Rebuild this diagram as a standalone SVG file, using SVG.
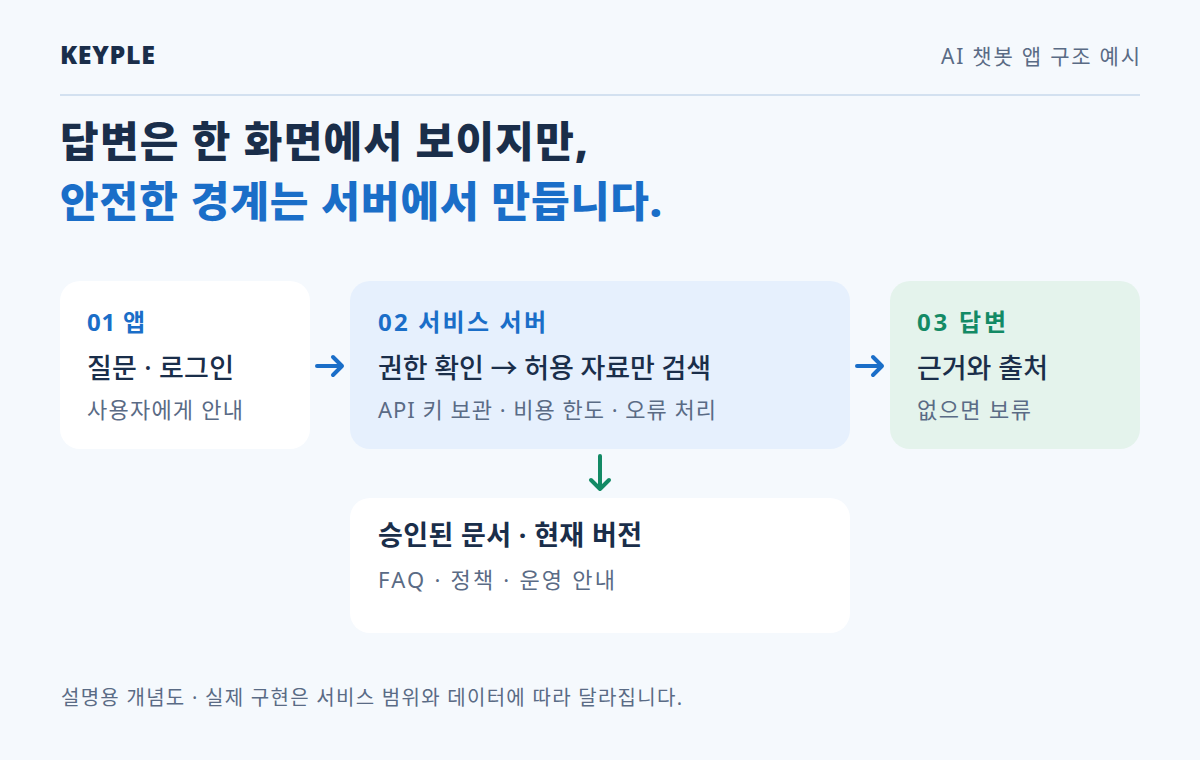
<svg xmlns="http://www.w3.org/2000/svg" width="1200" height="760" viewBox="0 0 1200 760">
<defs>
<style>
text{font-family:"Noto Sans","Noto Sans CJK KR",sans-serif}
.dark{fill:#1a2e4a}
.muted{fill:#5a6b85}
.blue{fill:#1a6ec8}
.green{fill:#138a65}
.step{font-size:24px;font-weight:700}
.main{font-size:27px;font-weight:500}
.sub{font-size:22px;font-weight:400}
.title{font-size:42px;font-weight:900}
.arr{fill:none;stroke-width:4;stroke-linecap:round;stroke-linejoin:round}
</style>
</defs>
<rect width="1200" height="760" fill="#f5f9fd"/>
<text x="60" y="64" class="dark" style="font-size:25px;font-weight:900" textLength="95" lengthAdjust="spacing">KEYPLE</text>
<text x="1140" y="64" class="muted" text-anchor="end" style="font-size:21px" textLength="199" lengthAdjust="spacing">AI 챗봇 앱 구조 예시</text>
<line x1="60" y1="95" x2="1140" y2="95" stroke="#d3e1f0" stroke-width="2"/>
<text x="60" y="157" class="title dark" textLength="528" lengthAdjust="spacing">답변은 한 화면에서 보이지만,</text>
<text x="60" y="217" class="title blue" textLength="602" lengthAdjust="spacing">안전한 경계는 서버에서 만듭니다.</text>

<g id="node-app">
<rect x="60" y="281" width="250" height="168" rx="20" fill="#ffffff"/>
<text x="87" y="331" class="step blue" textLength="58" lengthAdjust="spacing">01 앱</text>
<text x="87" y="378" class="main dark" textLength="147" lengthAdjust="spacing">질문 · 로그인</text>
<text x="87" y="418" class="sub muted" textLength="156" lengthAdjust="spacing">사용자에게 안내</text>
</g>
<g id="node-server">
<rect x="350" y="281" width="500" height="168" rx="20" fill="#e6f0fd"/>
<text x="378" y="331" class="step blue" textLength="168" lengthAdjust="spacing">02 서비스 서버</text>
<text x="378" y="378" class="main dark" textLength="333" lengthAdjust="spacing">권한 확인 → 허용 자료만 검색</text>
<text x="378" y="418" class="sub muted" textLength="338" lengthAdjust="spacing">API 키 보관 · 비용 한도 · 오류 처리</text>
</g>
<g id="node-answer">
<rect x="890" y="281" width="250" height="168" rx="20" fill="#e4f3ec"/>
<text x="917" y="331" class="step green" textLength="89" lengthAdjust="spacing">03 답변</text>
<text x="917" y="378" class="main dark" textLength="131" lengthAdjust="spacing">근거와 출처</text>
<text x="917" y="418" class="sub muted" textLength="114" lengthAdjust="spacing">없으면 보류</text>
</g>
<g id="node-docs">
<rect x="350" y="498" width="500" height="135" rx="20" fill="#ffffff"/>
<text x="378" y="545" class="dark" style="font-size:27px;font-weight:700" textLength="264" lengthAdjust="spacing">승인된 문서 · 현재 버전</text>
<text x="378" y="588" class="sub muted" textLength="237" lengthAdjust="spacing">FAQ · 정책 · 운영 안내</text>
</g>
<g id="connectors">
<path class="arr" stroke="#1a6ec8" d="M317 366 H342 M333 357 L342 366 L333 375"/>
<path class="arr" stroke="#1a6ec8" d="M857 366 H882 M873 357 L882 366 L873 375"/>
<path class="arr" stroke="#138a65" d="M600 456 V489 M591 480 L600 489 L609 480"/>
</g>
<text x="61" y="705" class="muted" style="font-size:20px" textLength="621" lengthAdjust="spacing">설명용 개념도 · 실제 구현은 서비스 범위와 데이터에 따라 달라집니다.</text>
</svg>
